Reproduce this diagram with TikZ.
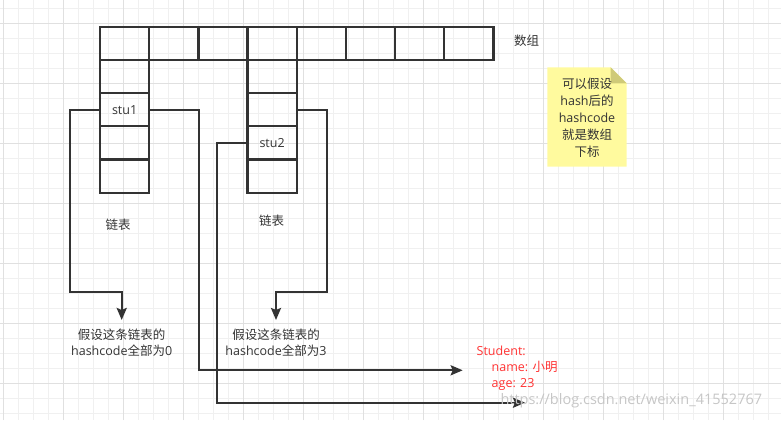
\documentclass[tikz,border=0pt]{standalone}
\usepackage{fontspec}
\setmainfont{Open Sans}
\newfontfamily\cjk{Noto Sans CJK SC}
\usetikzlibrary{arrows.meta}
\definecolor{gridminor}{HTML}{F0F0F0}
\definecolor{gridmajor}{HTML}{E0E0E0}
\definecolor{ink}{HTML}{333333}
\definecolor{notefill}{HTML}{FFFA9E}
\definecolor{notefold}{HTML}{CFCA78}
\definecolor{stured}{HTML}{FF3333}

\begin{document}
\begin{tikzpicture}[x=1pt, y=-1pt, font=\fontsize{12.5}{16}\selectfont,
    every node/.style={align=center, text=ink},
    cell/.style={draw=ink, line width=2.3pt, minimum width=49.2pt, minimum height=33.2pt, inner sep=0pt, outer sep=0pt},
    link/.style={draw=ink, line width=2.3pt, -{Stealth[length=12pt, width=10pt, inset=2pt]}},
    hashtxt/.style={anchor=north, inner sep=0pt, outer sep=9pt}]
        \useasboundingbox (0,0) rectangle (781,420);
        % background grid
        \begin{scope}[y=1pt]
            \draw[gridminor, line width=1pt, step=15pt, shift={(3pt,-8.3pt)}] (-3pt,8.3pt) grid (778pt,-411.7pt);
            \draw[gridmajor, line width=1pt, step=60pt, shift={(3pt,-23.3pt)}] (-3pt,23.3pt) grid (778pt,-396.7pt);
        \end{scope}

        % array
        \node[cell] (a0) at (124.6,43.3) {};
        \node[cell] (a1) at (173.8,43.3) {};
        \node[cell] (a2) at (223.0,43.3) {};
        \node[cell] (a3) at (272.1,43.3) {};
        \node[cell] (a4) at (321.3,43.3) {};
        \node[cell] (a5) at (370.5,43.3) {};
        \node[cell] (a6) at (419.7,43.3) {};
        \node[cell] (a7) at (468.9,43.3) {};
        \node (arr) at (526.7,40.7) {\cjk 数组};

        % linked lists
        \node[cell] (l1) at (124.6,76.5) {};
        \node[cell] (stu1) at (124.6,109.7) {stu1};
        \node[cell] (l3) at (124.6,142.9) {};
        \node[cell] (l4) at (124.6,176.1) {};
        \node[cell] (r1) at (272.1,76.5) {};
        \node[cell] (r2) at (272.1,109.7) {};
        \node[cell] (stu2) at (272.1,142.9) {stu2};
        \node[cell] (r4) at (272.1,176.1) {};
        \node (list1) at (118,225) {\cjk 链表};
        \node (list2) at (271.7,220.7) {\cjk 链表};

        % note
        \fill[notefill] (547.3,67.3) -- (610.7,67.3) -- (626.7,83.3) -- (626.7,166.7) -- (547.3,166.7) -- cycle;
        \fill[notefold] (610.7,67.3) -- (626.7,83.3) -- (610.7,83.3) -- cycle;
        \node[font=\fontsize{12.5}{17}\selectfont] (note) at (587,117.5) {{\cjk 可以假设}\\hash{\cjk 后的}\\hashcode\\{\cjk 就是数组}\\{\cjk 下标}};

        % texts below
        \node[hashtxt] (hash0) at (121.7,320) {{\cjk 假设这条链表的}\\hashcode{\cjk 全部为}0};
        \node[hashtxt] (hash3) at (276,320) {{\cjk 假设这条链表的}\\hashcode{\cjk 全部为}3};
        \node[anchor=west, align=left, text=stured, inner sep=0pt, outer sep=0pt] (stud) at (476.7,368.5) {Student:\\\hspace*{15pt}name: {\cjk 小明}\\\hspace*{15pt}age: 23};
        \coordinate (end2) at (525,402.7);

        % connectors
        \draw[link] (stu1.west) -- (70,109.7) |- (121.7,291.7) -- (hash0.north);
        \draw[link] (r2.east) -- (326.7,109.7) |- (276,291.7) -- (hash3.north);
        \draw[link] (stu1.east) -- (199,109.7) |- ([xshift=-14pt,yshift=-1.8pt]stud.west);
        \draw[link] (stu2.west) -- (216.7,142.9) |- (end2);

        \node[anchor=west, text=gray!45, font=\fontsize{14.5}{17}\selectfont] (mark) at (497,401) {https://blog.csdn.net/weixin\_41552767};
\end{tikzpicture}
\end{document}
